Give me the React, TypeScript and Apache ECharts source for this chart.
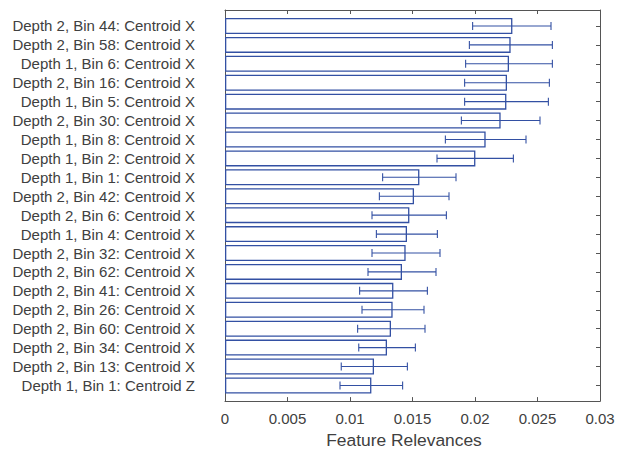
import React, { useEffect, useRef } from "react";
import * as echarts from "echarts";

const categories = [
  "Depth 2, Bin 44: Centroid X",
  "Depth 2, Bin 58: Centroid X",
  "Depth 1, Bin 6: Centroid X",
  "Depth 2, Bin 16: Centroid X",
  "Depth 1, Bin 5: Centroid X",
  "Depth 2, Bin 30: Centroid X",
  "Depth 1, Bin 8: Centroid X",
  "Depth 1, Bin 2: Centroid X",
  "Depth 1, Bin 1: Centroid X",
  "Depth 2, Bin 42: Centroid X",
  "Depth 2, Bin 6: Centroid X",
  "Depth 1, Bin 4: Centroid X",
  "Depth 2, Bin 32: Centroid X",
  "Depth 2, Bin 62: Centroid X",
  "Depth 2, Bin 41: Centroid X",
  "Depth 2, Bin 26: Centroid X",
  "Depth 2, Bin 60: Centroid X",
  "Depth 2, Bin 34: Centroid X",
  "Depth 2, Bin 13: Centroid X",
  "Depth 1, Bin 1: Centroid Z",
];

const relevance = [
  0.02299, 0.02285, 0.02272, 0.02256, 0.02251, 0.02205, 0.02085, 0.02003,
  0.01555, 0.01512, 0.01475, 0.01456, 0.01445, 0.01416, 0.01347, 0.01341,
  0.01328, 0.01296, 0.01192, 0.01171,
];

const errLow = [
  0.01981, 0.01955, 0.01925, 0.01917, 0.01917, 0.01891, 0.01763, 0.01696,
  0.01261, 0.01235, 0.01176, 0.01211, 0.01176, 0.01144, 0.01077, 0.01096,
  0.01061, 0.0107, 0.0093, 0.0092,
];

const errHigh = [
  0.02608, 0.02619, 0.02619, 0.02595, 0.02587, 0.0252, 0.02408, 0.02307,
  0.01848, 0.01792, 0.01771, 0.01699, 0.0172, 0.01688, 0.01619, 0.01592,
  0.016, 0.01523, 0.01459, 0.01421,
];

const xTicks = ["0", "0.005", "0.01", "0.015", "0.02", "0.025", "0.03"];

const BLUE = "#3350a3";
const AXIS = "#555555";
const TEXT = "#404040";
const FONT = "'Liberation Sans', Arial, Helvetica, sans-serif";

export default function App() {
  const ref = useRef<HTMLDivElement>(null);

  useEffect(() => {
    if (!ref.current) return;
    const chart = echarts.init(ref.current, undefined, { renderer: "svg" });

    const errData = categories.map((_, i) => [errLow[i], errHigh[i], i]);

    const frameLine = { show: true, onZero: false, lineStyle: { color: AXIS, width: 1 } };

    const option: any = {
      animation: false,
      backgroundColor: "#ffffff",
      grid: [
        { left: 225, top: 10, width: 375, height: 394, containLabel: false },
        { left: 225, top: 16.5, width: 375, height: 378.4, containLabel: false },
      ],
      xAxis: [
        {
          gridIndex: 0,
          type: "value",
          position: "bottom",
          min: 0,
          max: 0.03,
          interval: 0.005,
          axisLine: frameLine,
          axisTick: { show: true, inside: true, length: 4, lineStyle: { color: AXIS } },
          axisLabel: {
            show: true,
            margin: 10,
            color: TEXT,
            fontSize: 15,
            fontFamily: FONT,
            formatter: (v: number) => {
              const idx = Math.round(v / 0.005);
              return xTicks[idx] ?? "";
            },
          },
          splitLine: { show: false },
          name: "Feature Relevances",
          nameLocation: "middle",
          nameGap: 19,
          nameTextStyle: {
            color: TEXT,
            fontSize: 17.4,
            fontFamily: FONT,
            padding: [0, 17, 0, 0],
          },
        },
        {
          gridIndex: 0,
          type: "value",
          position: "top",
          min: 0,
          max: 0.03,
          interval: 0.005,
          axisLine: frameLine,
          axisTick: { show: true, inside: true, length: 4, lineStyle: { color: AXIS } },
          axisLabel: { show: false },
          splitLine: { show: false },
        },
        {
          gridIndex: 1,
          type: "value",
          min: 0,
          max: 0.03,
          show: false,
        },
      ],
      yAxis: [
        {
          gridIndex: 0,
          type: "value",
          position: "left",
          min: 0,
          max: 1,
          axisLine: frameLine,
          axisTick: { show: false },
          axisLabel: { show: false },
          splitLine: { show: false },
        },
        {
          gridIndex: 0,
          type: "value",
          position: "right",
          min: 0,
          max: 1,
          axisLine: frameLine,
          axisTick: { show: false },
          axisLabel: { show: false },
          splitLine: { show: false },
        },
        {
          gridIndex: 1,
          type: "category",
          data: categories,
          inverse: true,
          position: "left",
          axisLine: { show: false, onZero: false },
          axisTick: { show: false },
          axisLabel: {
            show: true,
            interval: 0,
            margin: 30,
            color: TEXT,
            fontSize: 15,
            fontFamily: FONT,
          },
          splitLine: { show: false },
        },
        {
          gridIndex: 1,
          type: "category",
          data: categories,
          inverse: true,
          position: "right",
          axisLine: { show: false, onZero: false },
          axisTick: {
            show: true,
            inside: true,
            interval: 0,
            alignWithLabel: true,
            length: 4,
            lineStyle: { color: AXIS },
          },
          axisLabel: { show: false, interval: 0 },
          splitLine: { show: false },
        },
      ],
      series: [
        {
          type: "bar",
          xAxisIndex: 2,
          yAxisIndex: 2,
          data: relevance,
          barWidth: 16,
          itemStyle: {
            color: "#ffffff",
            borderColor: BLUE,
            borderWidth: 1.3,
          },
          z: 2,
        },
        {
          type: "custom",
          xAxisIndex: 2,
          yAxisIndex: 2,
          data: errData,
          z: 3,
          renderItem: (params: any, api: any) => {
            const lo = api.value(0);
            const hi = api.value(1);
            const idx = api.value(2);
            const p1 = api.coord([lo, idx]);
            const p2 = api.coord([hi, idx]);
            const h = 4;
            const style = { stroke: BLUE, lineWidth: 1.1 };
            return {
              type: "group",
              children: [
                { type: "line", shape: { x1: p1[0], y1: p1[1], x2: p2[0], y2: p2[1] }, style },
                { type: "line", shape: { x1: p1[0], y1: p1[1] - h, x2: p1[0], y2: p1[1] + h }, style },
                { type: "line", shape: { x1: p2[0], y1: p2[1] - h, x2: p2[0], y2: p2[1] + h }, style },
              ],
            };
          },
        },
      ],
    };

    chart.setOption(option);
    return () => chart.dispose();
  }, []);

  return (
    <div
      ref={ref}
      style={{ position: "absolute", left: 0, top: 0, width: 619, height: 453 }}
    />
  );
}
